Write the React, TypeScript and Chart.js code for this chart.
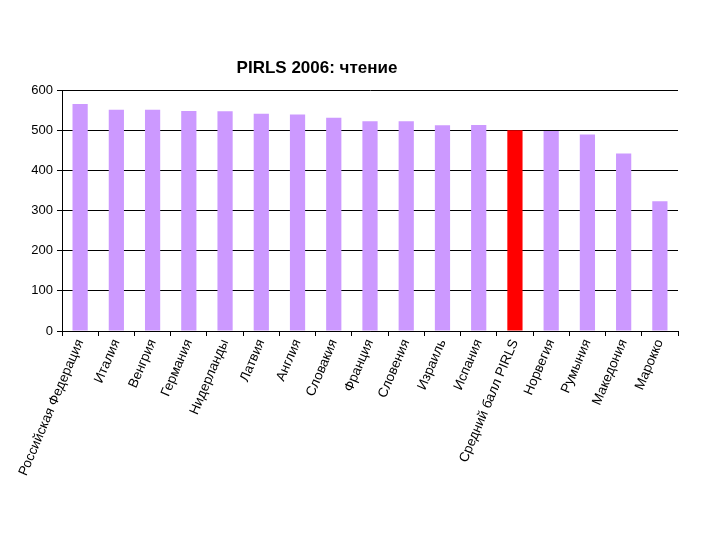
import React, { useEffect, useRef } from "react";
import { Chart, registerables } from "chart.js";

Chart.register(...registerables);

const categories = [
  "Российская Федерация", "Италия", "Венгрия", "Германия", "Нидерланды", "Латвия",
  "Англия", "Словакия", "Франция", "Словения", "Израиль", "Испания",
  "Средний балл PIRLS", "Норвегия", "Румыния", "Македония", "Марокко",
];
const scores = [565, 551, 551, 548, 547, 541, 539, 531, 522, 522, 512, 513, 500, 498, 489, 442, 323];
const highlightIndex = 12;
const titleText = "PIRLS 2006: чтение";
const yMin = 0;
const yMax = 600;
const yStep = 100;

const titlePlugin = {
  id: "customTitle",
  afterDraw(chart: any) {
    const ctx = chart.ctx;
    ctx.save();
    ctx.font = "bold 17px 'Liberation Sans', Arial, sans-serif";
    ctx.fillStyle = "#000";
    ctx.textAlign = "center";
    ctx.textBaseline = "middle";
    ctx.fillText(titleText, 317, 68);
    ctx.restore();
  },
};

export default function App() {
  const ref = useRef<HTMLCanvasElement>(null);
  useEffect(() => {
    if (!ref.current) return;
    const chart = new Chart(ref.current, {
      type: "bar",
      data: {
        labels: categories,
        datasets: [
          {
            data: scores,
            backgroundColor: scores.map((_, i) => (i === highlightIndex ? "#FF0000" : "#CC99FF")),
            barPercentage: 0.42,
            categoryPercentage: 1,
          },
        ],
      },
      plugins: [titlePlugin],
      options: {
        animation: false,
        responsive: false,
        maintainAspectRatio: false,
        layout: { padding: { top: 90, right: 42, left: 0, bottom: 0 } },
        plugins: { legend: { display: false }, tooltip: { enabled: false }, title: { display: false } },
        scales: {
          x: {
            offset: true,
            grid: { display: true, drawOnChartArea: false, drawTicks: true, tickLength: 5, color: "#000", offset: true },
            border: { color: "#000", width: 1 },
            ticks: {
              minRotation: 67,
              maxRotation: 67,
              autoSkip: false,
              padding: 1,
              color: "#000",
              font: { family: "'Liberation Sans', Arial, sans-serif", size: 13.5 },
            },
            afterFit(scale: any) {
              scale.height = 540 - 331;
            },
          },
          y: {
            min: yMin,
            max: yMax,
            grid: { color: "#000", lineWidth: 1, tickLength: 5, drawTicks: true },
            border: { color: "#000", width: 1 },
            ticks: {
              stepSize: yStep,
              padding: 4,
              color: "#000",
              font: { family: "'Liberation Sans', Arial, sans-serif", size: 13 },
            },
            afterFit(scale: any) {
              scale.width = 62;
            },
          },
        },
      },
    });
    return () => chart.destroy();
  }, []);
  return (
    <div style={{ position: "fixed", left: 0, top: 0, width: 720, height: 540, background: "#fff" }}>
      <canvas ref={ref} width={720} height={540} style={{ width: 720, height: 540 }} />
    </div>
  );
}
